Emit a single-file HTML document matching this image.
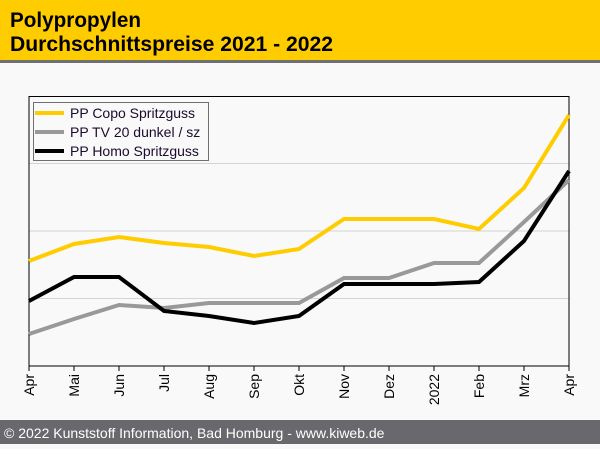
<!DOCTYPE html>
<html><head><meta charset="utf-8"><style>
body{margin:0;width:600px;height:444px;overflow:hidden;background:#f9f9f9;font-family:"Liberation Sans",sans-serif;}
</style></head><body>
<svg width="600" height="444" xmlns="http://www.w3.org/2000/svg" font-family="Liberation Sans, sans-serif">
<rect x="0" y="0" width="600" height="444" fill="#f9f9f9"/>
<rect x="0" y="0" width="600" height="61" fill="#ffcc00"/>
<rect x="0" y="60" width="600" height="3" fill="#707070"/>
<text x="10" y="27" font-size="21" font-weight="bold" textLength="131" lengthAdjust="spacingAndGlyphs">Polypropylen</text>
<text x="10" y="51" font-size="21" font-weight="bold" textLength="323" lengthAdjust="spacingAndGlyphs">Durchschnittspreise 2021 - 2022</text>
<rect x="0" y="420" width="600" height="24" fill="#68686d"/>
<text x="4" y="438" font-size="14" fill="#fff">© 2022 Kunststoff Information, Bad Homburg - www.kiweb.de</text>
<g stroke="#d4d4d4" stroke-width="1">
<line x1="29" y1="163.5" x2="569" y2="163.5"/><line x1="29" y1="231" x2="569" y2="231"/><line x1="29" y1="298.5" x2="569" y2="298.5"/>
</g>
<rect x="29" y="96.5" width="540" height="269.5" fill="none" stroke="#000" stroke-width="1"/>
<g stroke="#000" stroke-width="1">
<line x1="29" y1="366" x2="29" y2="371"/><line x1="74" y1="366" x2="74" y2="371"/><line x1="119" y1="366" x2="119" y2="371"/><line x1="164" y1="366" x2="164" y2="371"/><line x1="209" y1="366" x2="209" y2="371"/><line x1="254" y1="366" x2="254" y2="371"/><line x1="299" y1="366" x2="299" y2="371"/><line x1="344" y1="366" x2="344" y2="371"/><line x1="389" y1="366" x2="389" y2="371"/><line x1="434" y1="366" x2="434" y2="371"/><line x1="479" y1="366" x2="479" y2="371"/><line x1="524" y1="366" x2="524" y2="371"/><line x1="569" y1="366" x2="569" y2="371"/>
</g>
<g font-size="14" text-anchor="end">
<text transform="translate(34,374) rotate(-90)">Apr</text>
<text transform="translate(79,374) rotate(-90)">Mai</text>
<text transform="translate(124,374) rotate(-90)">Jun</text>
<text transform="translate(169,374) rotate(-90)">Jul</text>
<text transform="translate(214,374) rotate(-90)">Aug</text>
<text transform="translate(259,374) rotate(-90)">Sep</text>
<text transform="translate(304,374) rotate(-90)">Okt</text>
<text transform="translate(349,374) rotate(-90)">Nov</text>
<text transform="translate(394,374) rotate(-90)">Dez</text>
<text transform="translate(439,374) rotate(-90)">2022</text>
<text transform="translate(484,374) rotate(-90)">Feb</text>
<text transform="translate(529,374) rotate(-90)">Mrz</text>
<text transform="translate(574,374) rotate(-90)">Apr</text>
</g>
<g fill="none" stroke-width="4" stroke-linejoin="miter">
<polyline stroke="#ffcc00" points="29,261 74,244 119,237 164,243 209,247 254,256 299,249 344,219 389,219 434,219 479,229 524,188 569,115"/>
<polyline stroke="#999999" points="29,334 74,319 119,305 164,308 209,303 254,303 299,303 344,278 389,278 434,263 479,263 524,222 569,180"/>
<polyline stroke="#000" points="29,301 74,277 119,277 164,311 209,316 254,323 299,316 344,284 389,284 434,284 479,282 524,241 569,171"/>
</g>
<rect x="33.5" y="102.5" width="175" height="58" fill="#f9f9f9" stroke="#707070" stroke-width="1"/>
<g stroke-width="4"><line x1="35" y1="113" x2="64" y2="113" stroke="#ffcc00"/><line x1="35" y1="132" x2="64" y2="132" stroke="#999"/><line x1="35" y1="151" x2="64" y2="151" stroke="#000"/></g>
<g font-size="14" fill="#1a0a30"><text x="70" y="118">PP Copo Spritzguss</text><text x="70" y="137">PP TV 20 dunkel / sz</text><text x="70" y="156">PP Homo Spritzguss</text></g>
</svg>
</body></html>
